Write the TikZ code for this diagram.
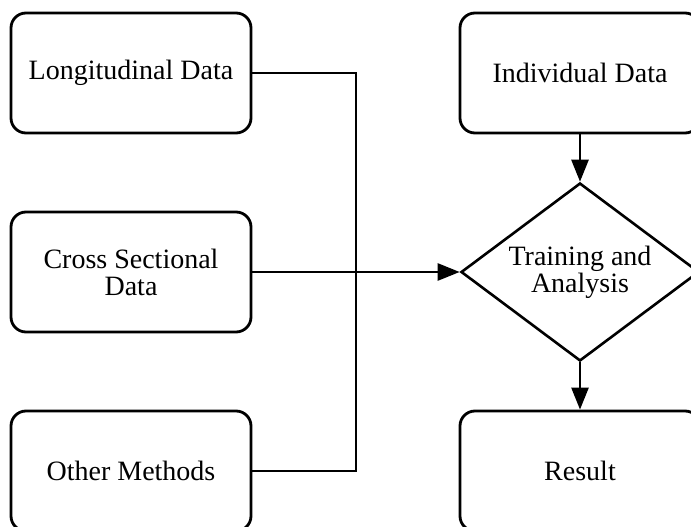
\documentclass[tikz,border=0pt]{standalone}
\usepackage{fontspec}
\setmainfont{Liberation Serif}
\usetikzlibrary{shapes.geometric,arrows.meta}

\tikzset{
  databox/.style={draw, line width=2.8pt, rounded corners=15pt,
    minimum width=240pt, minimum height=120pt, inner sep=0pt,
    align=center, font=\fontsize{28}{27}\selectfont},
  decision/.style={draw, diamond, line width=2.6pt, shape aspect=1.337,
    minimum width=238pt, minimum height=178pt, inner sep=0pt,
    align=center, font=\fontsize{28}{27}\selectfont},
  link/.style={line width=2.6pt},
  flow/.style={link, -{Triangle[length=22pt,width=17pt]}}
}

\begin{document}
\begin{tikzpicture}[x=1pt,y=-1pt]
  \useasboundingbox (0,0) rectangle (691,527);
  \clip (0,0) rectangle (691,527);

  % input sources on the left
  \node[databox] (long)  at (131,73)  {Longitudinal Data};
  \node[databox] (cross) at (131,272) {Cross Sectional\\Data};
  \node[databox] (other) at (131,471) {Other Methods};

  % processing column on the right
  \node[databox]  (indiv)  at (580,73)  {Individual Data};
  \node[decision] (train)  at (580,272) {Training and\\Analysis};
  \node[databox]  (result) at (580,471) {Result};

  % merge point of the three sources
  \coordinate (join) at (356,272);

  \draw[link] (long.east) -| (join);
  \draw[link] (other.east) -| (join);
  \draw[flow] (cross.east) -- (train.west);
  \draw[flow] (indiv.south) -- (train.north);
  \draw[flow] (train.south) -- (result.north);
\end{tikzpicture}
\end{document}
